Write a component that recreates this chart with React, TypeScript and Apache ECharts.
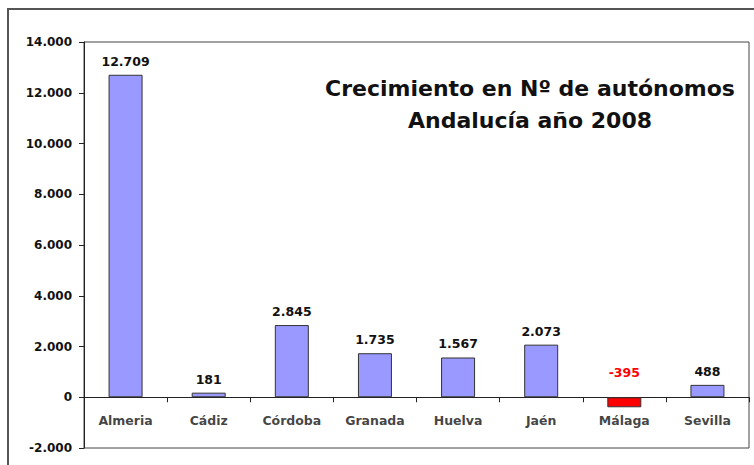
import React, { useEffect, useRef } from "react";
import * as echarts from "echarts";

const categories = ["Almeria", "Cádiz", "Córdoba", "Granada", "Huelva", "Jaén", "Málaga", "Sevilla"];
const values = [12709, 181, 2845, 1735, 1567, 2073, -395, 488];
const titleLines = ["Crecimiento en Nº de autónomos", "Andalucía año 2008"];

const fmt = (v: number) => {
  const neg = v < 0;
  const s = String(Math.abs(Math.round(v))).replace(/\B(?=(\d{3})+(?!\d))/g, ".");
  return (neg ? "-" : "") + s;
};

export default function App() {
  const ref = useRef<HTMLDivElement>(null);
  useEffect(() => {
    if (!ref.current) return;
    const chart = echarts.init(ref.current, undefined, { renderer: "svg" });
    const font = "DejaVu Sans";
    chart.setOption({
      animation: false,
      backgroundColor: "#ffffff",
      textStyle: { fontFamily: font },
      graphic: [
        {
          type: "rect",
          shape: { x: 8, y: 9, width: 800, height: 500 },
          style: { fill: "none", stroke: "#555", lineWidth: 2 },
          silent: true,
        },
        {
          type: "text",
          x: 530,
          y: 88,
          style: {
            text: titleLines[0],
            fontFamily: font,
            fontSize: 22,
            fontWeight: "bold",
            fill: "#111",
            align: "center",
            verticalAlign: "middle",
          },
        },
        {
          type: "text",
          x: 530,
          y: 120,
          style: {
            text: titleLines[1],
            fontFamily: font,
            fontSize: 22,
            fontWeight: "bold",
            fill: "#111",
            align: "center",
            verticalAlign: "middle",
          },
        },
      ],
      grid: {
        left: 84,
        top: 42,
        right: 5,
        bottom: 17,
        show: true,
        borderColor: "#444",
        borderWidth: 1,
        containLabel: false,
        outerBoundsMode: "none",
      },
      xAxis: {
        type: "category",
        data: categories,
        axisLine: { onZero: true, lineStyle: { color: "#222", width: 1 } },
        axisTick: { show: true, length: 5, lineStyle: { color: "#222" } },
        axisLabel: { show: false },
      },
      yAxis: {
        type: "value",
        min: -2000,
        max: 14000,
        interval: 2000,
        axisLine: { show: true, lineStyle: { color: "#222" } },
        axisTick: { show: true, length: 5, lineStyle: { color: "#222" } },
        splitLine: { show: false },
        axisLabel: {
          margin: 12,
          fontSize: 12,
          fontWeight: "bold",
          color: "#111",
          fontFamily: font,
          formatter: (v: number) => fmt(v),
        },
      },
      series: [
        {
          type: "bar",
          barWidth: 34,
          data: values.map((v) =>
            v < 0
              ? {
                  value: v,
                  itemStyle: { color: "#ff0000", borderColor: "#333", borderWidth: 1 },
                  label: { color: "#ff0000", distance: 18 },
                }
              : v
          ),
          itemStyle: { color: "#9999ff", borderColor: "#333", borderWidth: 1 },
          label: {
            show: true,
            position: "top",
            distance: 7,
            fontSize: 12.5,
            fontWeight: "bold",
            color: "#111",
            fontFamily: font,
            formatter: (p: any) => fmt(p.value),
          },
        },
        {
          type: "scatter",
          silent: true,
          symbolSize: 1,
          itemStyle: { color: "rgba(0,0,0,0)" },
          data: categories.map((c) => [c, 0]),
          label: {
            show: true,
            position: "bottom",
            distance: 16,
            fontSize: 12.5,
            fontWeight: "bold",
            color: "#111",
            fontFamily: font,
            formatter: (p: any) => p.name || p.value[0],
          },
        },
      ],
    });
    return () => chart.dispose();
  }, []);
  return (
    <div
      ref={ref}
      style={{ position: "absolute", left: 0, top: 0, width: 754, height: 465 }}
    />
  );
}
